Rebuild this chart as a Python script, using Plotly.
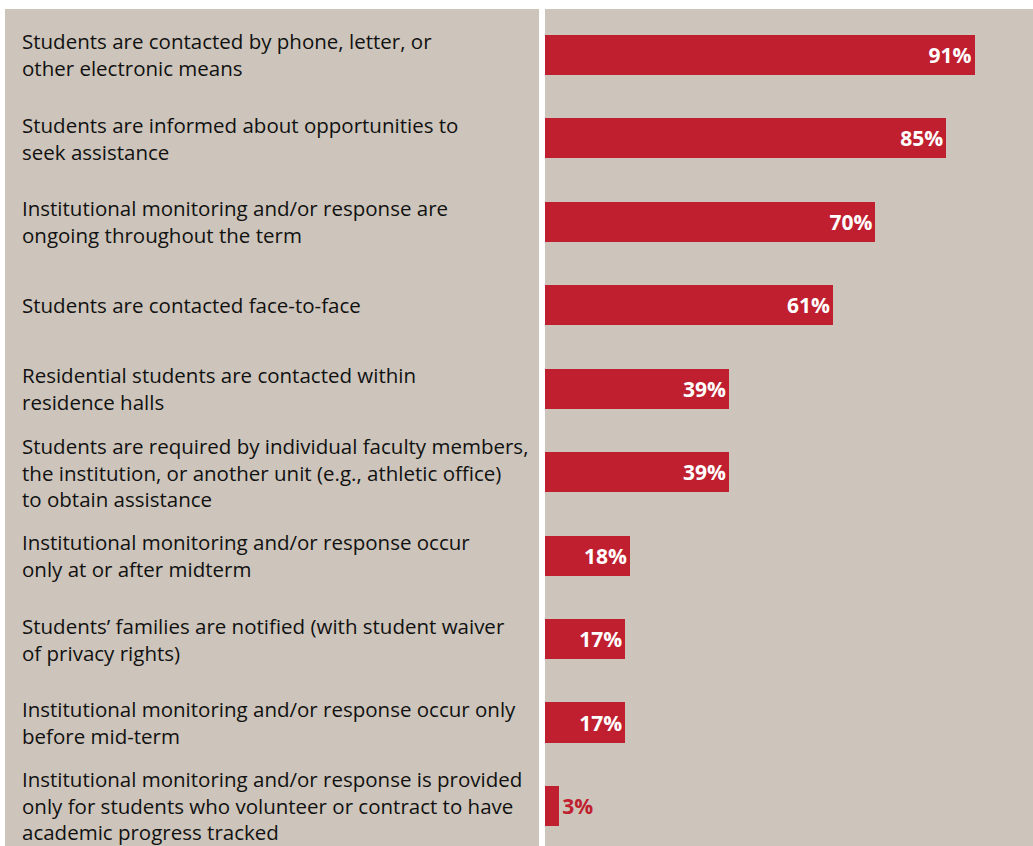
import plotly.graph_objects as go

categories = [
    "Students are contacted by phone, letter, or<br>other electronic means",
    "Students are informed about opportunities to<br>seek assistance",
    "Institutional monitoring and/or response are<br>ongoing throughout the term",
    "Students are contacted face-to-face",
    "Residential students are contacted within<br>residence halls",
    "Students are required by individual faculty members,<br>the institution, or another unit (e.g., athletic office)<br>to obtain assistance",
    "Institutional monitoring and/or response occur<br>only at or after midterm",
    "Students\u2019 families are notified (with student waiver<br>of privacy rights)",
    "Institutional monitoring and/or response occur only<br>before mid-term",
    "Institutional monitoring and/or response is provided<br>only for students who volunteer or contract to have<br>academic progress tracked",
]
values = [91, 85, 70, 61, 39, 39, 18, 17, 17, 3]

BEIGE = "#cdc5bb"
RED = "#c01f30"
W, H = 1033, 846
ML, MT = 545, 9
PW = W - ML

ypos = list(range(len(categories)))

fig = go.Figure()
fig.add_trace(go.Bar(
    x=values,
    y=ypos,
    orientation="h",
    marker=dict(color=RED, line=dict(width=0)),
    width=0.48,
    text=[f"{v}%" for v in values],
    textposition=["inside" if v > 10 else "outside" for v in values],
    insidetextanchor="end",
    insidetextfont=dict(color="white", size=21, family="Open Sans", weight="bold"),
    outsidetextfont=dict(color=RED, size=21, family="Open Sans", weight="bold"),
    constraintext="none",
    cliponaxis=False,
    hoverinfo="skip",
))

# left label panel
fig.add_shape(type="rect", xref="paper", yref="paper",
              x0=(5 - ML) / PW, x1=(539 - ML) / PW, y0=0, y1=1,
              fillcolor=BEIGE, line=dict(width=0), layer="below")

for i, c in enumerate(categories):
    fig.add_annotation(
        x=(20 - ML) / PW, xref="paper", xanchor="left",
        y=i, yref="y", yanchor="middle",
        text=c, showarrow=False, align="left",
        font=dict(family="Open Sans", size=20.5, color="#111111"),
    )

fig.update_layout(
    width=W, height=H,
    margin=dict(l=ML, r=0, t=MT, b=0, pad=0),
    paper_bgcolor="white",
    plot_bgcolor=BEIGE,
    showlegend=False,
    bargap=0,
    hovermode=False,
    xaxis=dict(range=[0, PW / 4.72], visible=False, fixedrange=True),
    yaxis=dict(range=[9.48, -0.551], visible=False, fixedrange=True),
)

fig.write_html("out.html",
               config={"displayModeBar": False, "staticPlot": True},
               post_script="document.body.style.margin='0';document.body.style.overflow='hidden';")
